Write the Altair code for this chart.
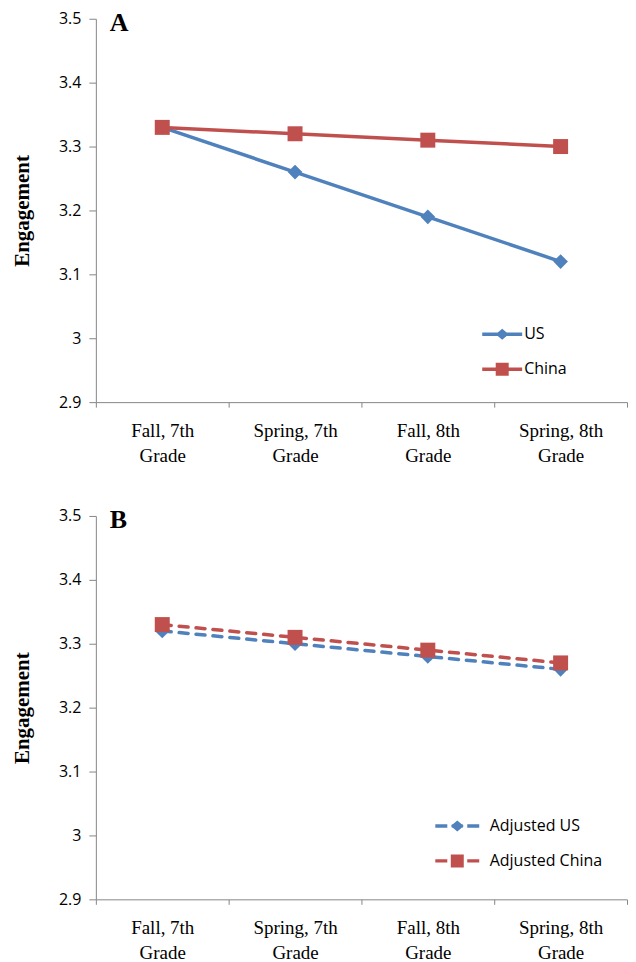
import altair as alt
import pandas as pd

categories = ["Fall, 7th Grade", "Spring, 7th Grade", "Fall, 8th Grade", "Spring, 8th Grade"]
us_values = [3.33, 3.26, 3.19, 3.12]
china_values = [3.33, 3.32, 3.31, 3.30]
adj_us_values = [3.32, 3.30, 3.28, 3.26]
adj_china_values = [3.33, 3.31, 3.29, 3.27]
names_a = ["US", "China"]
names_b = ["Adjusted US", "Adjusted China"]
y_ticks = [2.9, 3.0, 3.1, 3.2, 3.3, 3.4, 3.5]

BLUE = "#4F81BD"
RED = "#C0504D"
AXIS_GRAY = "#868686"

# legend symbols: line + marker
US_SOLID = "M-2,-0.17H2V0.17H-2Z M0,-0.55L0.65,0L0,0.55L-0.65,0Z"
CN_SOLID = "M-2,-0.17H2V0.17H-2Z M-0.65,-0.65H0.65V0.65H-0.65Z"
US_DASH = ("M-2.2,-0.17H-1.0V0.17H-2.2Z M-0.55,-0.17H0.55V0.17H-0.55Z "
           "M1.0,-0.17H2.2V0.17H1.0Z M0,-0.55L0.65,0L0,0.55L-0.65,0Z")
CN_DASH = ("M-2.2,-0.17H-1.0V0.17H-2.2Z M-0.55,-0.17H0.55V0.17H-0.55Z "
           "M1.0,-0.17H2.2V0.17H1.0Z M-0.65,-0.65H0.65V0.65H-0.65Z")


def long_df(names, v1, v2):
    rows = []
    for n, vals in zip(names, [v1, v2]):
        for c, v in zip(categories, vals):
            rows.append({"stage": c, "series": n, "value": v})
    return pd.DataFrame(rows)


def panel(df, names, letter, dashed, sym_paths, lx, ly, loff):
    colors = [BLUE, RED]
    shapes = ["diamond", "square"]
    sizes = [215, 225]
    x = alt.X(
        "stage:N",
        sort=categories,
        scale=alt.Scale(type="band", paddingInner=0, paddingOuter=0),
        axis=alt.Axis(
            title=None, labelAngle=0, labelFont="Liberation Serif", labelFontSize=19,
            labelColor="black", labelLineHeight=25, labelPadding=14, tickSize=5,
            tickBand="extent", domainColor=AXIS_GRAY, tickColor=AXIS_GRAY,
            labelOverlap=False, grid=False,
            labelExpr="datum.label ? [replace(datum.label, ' Grade', ''), 'Grade'] : ''",
        ),
    )
    y = alt.Y(
        "value:Q",
        scale=alt.Scale(domain=[2.9, 3.5], nice=False, zero=False),
        axis=alt.Axis(
            values=y_ticks, format=".2~f", title="Engagement",
            titleFont="Liberation Serif", titleFontSize=21, titleFontWeight="bold",
            titleColor="black", titlePadding=25, labelFont="Open Sans",
            labelFontSize=16, labelColor="black", labelPadding=8, tickSize=7,
            grid=False, domainColor=AXIS_GRAY, tickColor=AXIS_GRAY,
            minExtent=38, maxExtent=38,
        ),
    )
    line_kw = dict(strokeWidth=3.5)
    if dashed:
        line_kw.update(strokeDash=[9, 8], strokeCap="round")
    layers = []
    for n, c in zip(names, colors):
        layers.append(
            alt.Chart(df).mark_line(color=c, **line_kw).encode(x=x, y=y)
            .transform_filter(alt.datum.series == n)
        )
    for n, c, s, sz in zip(names, colors, shapes, sizes):
        layers.append(
            alt.Chart(df).mark_point(filled=True, opacity=1, size=sz, shape=s, color=c)
            .encode(x=x, y=y).transform_filter(alt.datum.series == n)
        )
    leg = alt.Legend(
        orient="none", legendX=lx, legendY=ly, title=None, symbolSize=400,
        symbolStrokeWidth=0, symbolOpacity=1, labelFont="Open Sans", labelFontSize=16,
        labelColor="black", labelOffset=loff, rowPadding=17, padding=0,
    )
    layers.append(
        alt.Chart(df).mark_point(filled=True).encode(
            x=x, y=y,
            color=alt.Color("series:N", scale=alt.Scale(domain=names, range=colors), legend=leg),
            shape=alt.Shape("series:N", scale=alt.Scale(domain=names, range=sym_paths), legend=leg),
        ).transform_filter("false")
    )
    layers.append(
        alt.Chart(pd.DataFrame({"t": [letter]})).mark_text(
            font="Liberation Serif", fontSize=26, fontWeight="bold", color="black",
            align="left", baseline="alphabetic",
        ).encode(text="t:N", x=alt.value(14), y=alt.value(12))
    )
    return alt.layer(*layers).properties(width=532, height=384)


df_a = long_df(names_a, us_values, china_values)
df_b = long_df(names_b, adj_us_values, adj_china_values)

pa = panel(df_a, names_a, "A", False, [US_SOLID, CN_SOLID], 397, 306, 12)
pb = panel(df_b, names_b, "B", True, [US_DASH, CN_DASH], 352, 300.5, 22.5)

chart = alt.vconcat(pa, pb, spacing=42).resolve_scale(
    color="independent", shape="independent"
).resolve_legend(color="independent", shape="independent").properties(
    padding={"left": 4, "top": 1, "right": 0, "bottom": 3},
    background="white",
).configure_view(stroke=None)

chart.save("out.html", embed_options={"renderer": "svg", "actions": False})
